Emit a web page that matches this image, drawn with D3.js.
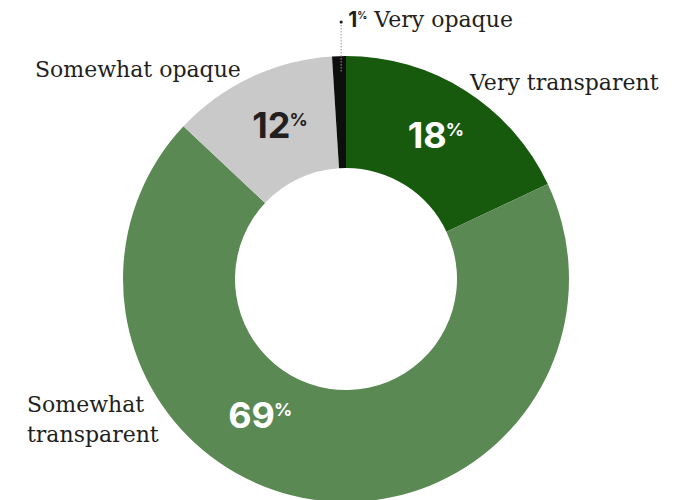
<!DOCTYPE html>
<html>
<head>
<meta charset="utf-8">
<script src="https://cdn.jsdelivr.net/npm/d3@7"></script>
<style>
  html, body { margin: 0; padding: 0; background: #fff; }
  svg { display: block; }
</style>
</head>
<body>
<div id="chart"></div>
<script>
const categories = ["Very transparent", "Somewhat transparent", "Somewhat opaque", "Very opaque"];
const values = [18, 69, 12, 1];
const colors = ["#175a0e", "#5a8953", "#c9c9c9", "#0e0e0e"];
const valueColors = ["#ffffff", "#ffffff", "#231f20", "#231f20"];

const width = 680, height = 500;
const cx = 346, cy = 279;
const outerR = 223, innerR = 111;

const serif = "'DejaVu Serif', serif";
const sans = "Inter, 'Noto Sans', sans-serif";
const ink = "#231f20";

const svg = d3.select("#chart")
    .append("svg")
    .attr("width", width)
    .attr("height", height)
    .attr("viewBox", `0 0 ${width} ${height}`);

const data = categories.map((name, i) => ({ name, value: values[i], color: colors[i], ink: valueColors[i] }));

const pie = d3.pie()
    .value(d => d.value)
    .sort(null);

const arc = d3.arc()
    .innerRadius(innerR)
    .outerRadius(outerR);

const arcs = pie(data);

const g = svg.append("g")
    .attr("transform", `translate(${cx}, ${cy})`);

g.selectAll("path")
    .data(arcs)
    .join("path")
    .attr("d", arc)
    .attr("fill", d => d.data.color);

// value labels: near the centroid, except the big slice which sits lower-left
const midR = (innerR + outerR) / 2 - 5;
const valuePos = d => {
    if (d.data.name === "Somewhat transparent") {
        const a = 212 * Math.PI / 180;
        return [162 * Math.sin(a), -162 * Math.cos(a) + 12];
    }
    const a = (d.startAngle + d.endAngle) / 2;
    return [midR * Math.sin(a) + 3, -midR * Math.cos(a) + 6];
};

const valueLabel = g.selectAll("text.value")
    .data(arcs.filter(d => d.data.value > 5))
    .join("text")
    .attr("class", "value")
    .attr("text-anchor", "middle")
    .attr("transform", d => { const [x, y] = valuePos(d); return `translate(${x}, ${y})`; })
    .attr("fill", d => d.data.ink)
    .style("font-family", sans)
    .style("font-weight", 700)
    .style("font-size", "36px");

valueLabel.append("tspan").text(d => d.data.value);
valueLabel.append("tspan")
    .text("%")
    .attr("dx", -1)
    .attr("dy", -12)
    .style("font-size", "18px");

// category labels
const labelText = (sel) => sel
    .attr("fill", ink)
    .style("font-family", serif)
    .style("font-size", "22px");

svg.append("text").call(labelText)
    .attr("x", 35).attr("y", 77)
    .text("Somewhat opaque");

svg.append("text").call(labelText)
    .attr("x", 470).attr("y", 90)
    .text("Very transparent");

const st = svg.append("text").call(labelText);
st.append("tspan").attr("x", 27).attr("y", 412).text("Somewhat");
st.append("tspan").attr("x", 27).attr("y", 442).text("transparent");

// very opaque callout
const tiny = arcs.find(d => d.data.name === "Very opaque");
const tinyA = (tiny.startAngle + tiny.endAngle) / 2;
const lx = cx + (outerR - 5) * Math.sin(tinyA) + 2;

svg.append("line")
    .attr("x1", lx).attr("x2", lx)
    .attr("y1", 22).attr("y2", cy - (outerR - 16))
    .attr("stroke", "#9a9a9a")
    .attr("stroke-width", 1)
    .attr("stroke-dasharray", "1.5,1.5");

svg.append("circle")
    .attr("cx", lx).attr("cy", 22)
    .attr("r", 1.6)
    .attr("fill", ink);

const vo = svg.append("text")
    .attr("x", lx + 7)
    .attr("y", 27)
    .attr("fill", ink);

vo.append("tspan")
    .text(tiny.data.value)
    .style("font-family", sans)
    .style("font-weight", 700)
    .style("font-size", "21px");
vo.append("tspan")
    .text("%")
    .attr("dy", -8)
    .style("font-family", sans)
    .style("font-weight", 700)
    .style("font-size", "10px");
vo.append("tspan")
    .text(" " + tiny.data.name)
    .attr("dy", 8)
    .style("font-family", serif)
    .style("font-size", "22px");
</script>
</body>
</html>
